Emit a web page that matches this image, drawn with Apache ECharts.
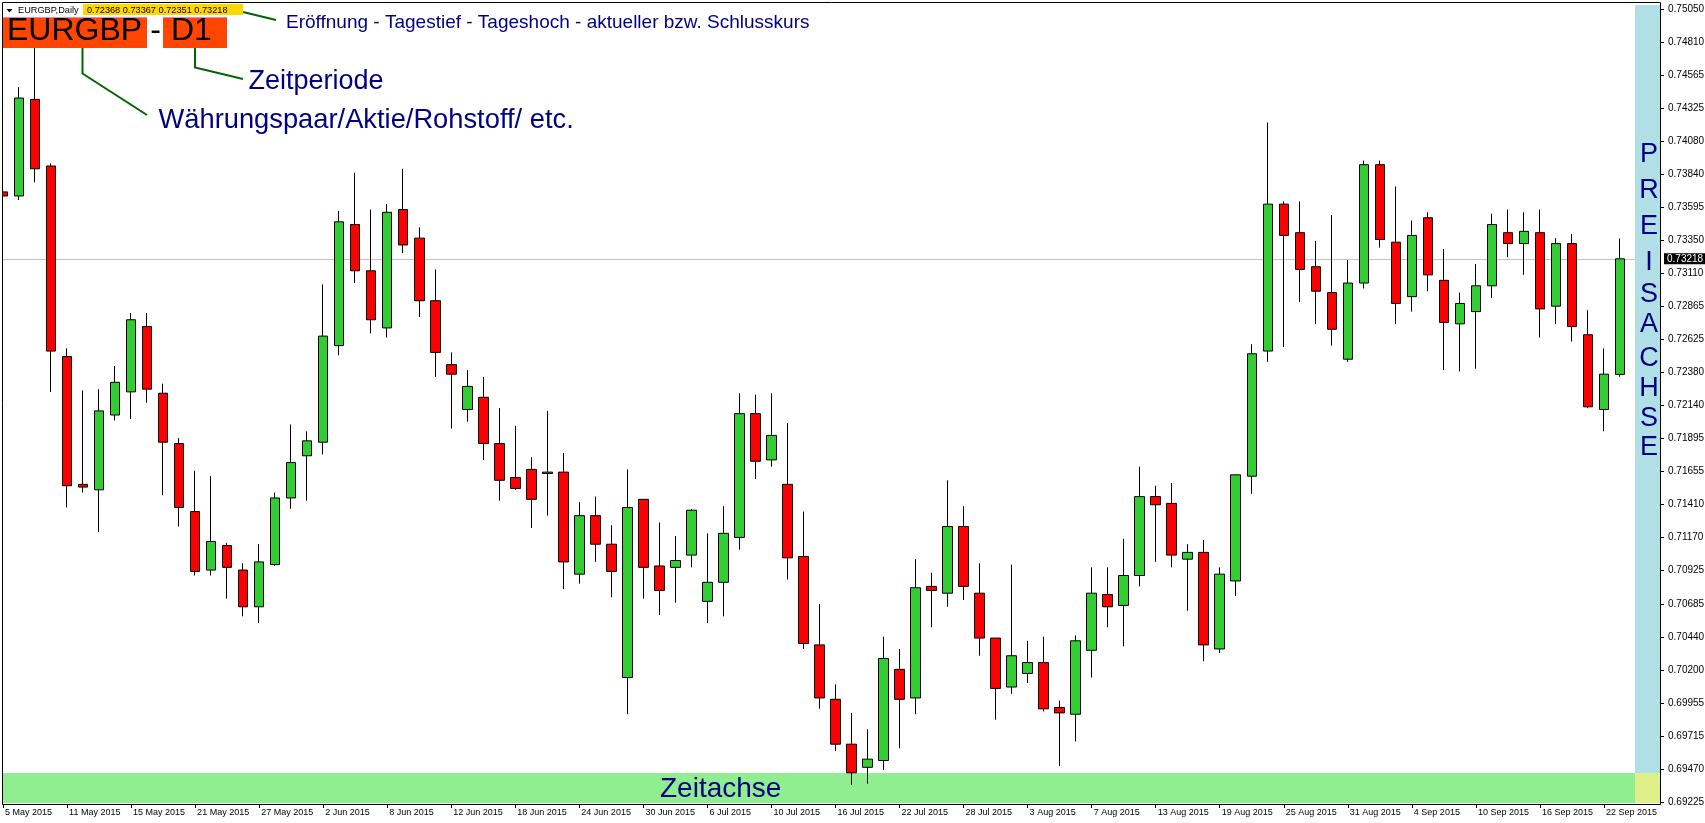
<!DOCTYPE html>
<html><head><meta charset="utf-8">
<script src="https://cdn.jsdelivr.net/npm/echarts@6/dist/echarts.min.js"></script>
<style>html,body{margin:0;padding:0;background:#fff;}#c{width:1705px;height:823px;}</style>
</head><body><div id="c"></div>
<script>
const DATES = [
'5 May 2015','6 May 2015','7 May 2015','8 May 2015','11 May 2015','12 May 2015','13 May 2015','14 May 2015','15 May 2015','18 May 2015',
'19 May 2015','20 May 2015','21 May 2015','22 May 2015','25 May 2015','26 May 2015','27 May 2015','28 May 2015','29 May 2015','1 Jun 2015',
'2 Jun 2015','3 Jun 2015','4 Jun 2015','5 Jun 2015','8 Jun 2015','9 Jun 2015','10 Jun 2015','11 Jun 2015','12 Jun 2015','15 Jun 2015',
'16 Jun 2015','17 Jun 2015','18 Jun 2015','19 Jun 2015','22 Jun 2015','23 Jun 2015','24 Jun 2015','25 Jun 2015','26 Jun 2015','29 Jun 2015',
'30 Jun 2015','1 Jul 2015','2 Jul 2015','3 Jul 2015','6 Jul 2015','7 Jul 2015','8 Jul 2015','9 Jul 2015','10 Jul 2015','13 Jul 2015',
'14 Jul 2015','15 Jul 2015','16 Jul 2015','17 Jul 2015','20 Jul 2015','21 Jul 2015','22 Jul 2015','23 Jul 2015','24 Jul 2015','27 Jul 2015',
'28 Jul 2015','29 Jul 2015','30 Jul 2015','31 Jul 2015','3 Aug 2015','4 Aug 2015','5 Aug 2015','6 Aug 2015','7 Aug 2015','10 Aug 2015',
'11 Aug 2015','12 Aug 2015','13 Aug 2015','14 Aug 2015','17 Aug 2015','18 Aug 2015','19 Aug 2015','20 Aug 2015','21 Aug 2015','24 Aug 2015',
'25 Aug 2015','26 Aug 2015','27 Aug 2015','28 Aug 2015','31 Aug 2015','1 Sep 2015','2 Sep 2015','3 Sep 2015','4 Sep 2015','7 Sep 2015',
'8 Sep 2015','9 Sep 2015','10 Sep 2015','11 Sep 2015','14 Sep 2015','15 Sep 2015','16 Sep 2015','17 Sep 2015','18 Sep 2015','21 Sep 2015',
'22 Sep 2015','23 Sep 2015','24 Sep 2015','25 Sep 2015'];

const OPEN = [0.7371,0.7368,0.7439,0.7390,0.7250,0.7156,0.7152,0.7207,0.7224,0.7272,
0.7223,0.7186,0.7136,0.7093,0.7111,0.7093,0.7066,0.7097,0.7146,0.7177,
0.7187,0.7258,0.7347,0.7313,0.7271,0.7358,0.7337,0.7291,0.7244,0.7211,
0.7220,0.7186,0.7161,0.7167,0.7164,0.7165,0.7090,0.7133,0.7112,0.7014,
0.7145,0.7096,0.7095,0.7104,0.7070,0.7084,0.7117,0.7208,0.7174,0.7156,
0.7103,0.7038,0.6998,0.6965,0.6948,0.6953,0.7020,0.6999,0.7081,0.7076,
0.7125,0.7076,0.7043,0.7007,0.7017,0.7025,0.6992,0.6987,0.7034,0.7075,
0.7067,0.7089,0.7147,0.7142,0.7101,0.7106,0.7035,0.7085,0.7162,0.7254,
0.7362,0.7341,0.7316,0.7297,0.7248,0.7304,0.7391,0.7334,0.7294,0.7352,
0.7306,0.7274,0.7283,0.7302,0.7341,0.7333,0.7341,0.7287,0.7333,0.7266,
0.7211,0.72368];
const CLOSE = [0.7368,0.7440,0.7388,0.7254,0.7155,0.7154,0.7210,0.7231,0.7277,0.7226,
0.7187,0.7139,0.7092,0.7114,0.7095,0.7066,0.7099,0.7146,0.7172,0.7188,
0.7265,0.7349,0.7313,0.7277,0.7356,0.7332,0.7291,0.7253,0.7237,0.7228,
0.7186,0.7159,0.7153,0.7145,0.7165,0.7099,0.7133,0.7112,0.7092,0.7139,
0.7095,0.7078,0.7100,0.7137,0.7084,0.7120,0.7208,0.7173,0.7192,0.7102,
0.7039,0.6999,0.6965,0.6944,0.6954,0.7028,0.6998,0.7080,0.7078,0.7125,
0.7081,0.7043,0.7006,0.7030,0.7025,0.6991,0.6988,0.7041,0.7076,0.7066,
0.7089,0.7147,0.7141,0.7104,0.7106,0.7038,0.7090,0.7163,0.7252,0.7362,
0.7339,0.7314,0.7298,0.7270,0.7304,0.7391,0.7336,0.7289,0.7339,0.7310,
0.7275,0.7289,0.7302,0.7347,0.7333,0.7342,0.7285,0.7333,0.7272,0.7213,
0.7237,0.73218];
const LOW = [0.7314,0.7365,0.7378,0.7224,0.7139,0.7150,0.7121,0.7203,0.7204,0.7216,
0.7148,0.7125,0.7089,0.7089,0.7072,0.7059,0.7054,0.7096,0.7138,0.7144,
0.7178,0.7251,0.7304,0.7267,0.7264,0.7326,0.7279,0.7235,0.7197,0.7202,
0.7174,0.7144,0.7152,0.7124,0.7133,0.7079,0.7083,0.7099,0.7073,0.6987,
0.7072,0.7060,0.7069,0.7095,0.7054,0.7059,0.7108,0.7160,0.7169,0.7086,
0.7035,0.6991,0.6960,0.6935,0.6936,0.6946,0.6962,0.6987,0.7051,0.7066,
0.7071,0.7030,0.6983,0.7002,0.7010,0.6989,0.6949,0.6967,0.7014,0.7051,
0.7037,0.7081,0.7099,0.7095,0.7063,0.7026,0.7032,0.7074,0.7149,0.7246,
0.7257,0.7290,0.7274,0.7258,0.7246,0.7300,0.7330,0.7274,0.7283,0.7298,
0.7240,0.7239,0.7241,0.7293,0.7323,0.7310,0.7264,0.7274,0.7261,0.7212,
0.7195,0.72351];
const HIGH = [0.7382,0.7448,0.7483,0.7392,0.7256,0.7225,0.7226,0.7243,0.7282,0.7282,
0.7230,0.7190,0.7166,0.7162,0.7113,0.7098,0.7112,0.7150,0.7200,0.7195,
0.7303,0.7357,0.7385,0.7358,0.7362,0.7388,0.7345,0.7314,0.7253,0.7240,
0.7235,0.7212,0.7199,0.7176,0.7210,0.7179,0.7143,0.7147,0.7126,0.7167,
0.7145,0.7128,0.7118,0.7138,0.7120,0.7140,0.7223,0.7222,0.7223,0.7201,
0.7136,0.7068,0.7009,0.6988,0.6976,0.7044,0.7035,0.7101,0.7091,0.7159,
0.7140,0.7098,0.7043,0.7097,0.7041,0.7044,0.6997,0.7045,0.7095,0.7095,
0.7116,0.7169,0.7155,0.7157,0.7112,0.7115,0.7095,0.7163,0.7259,0.7422,
0.7364,0.7364,0.7335,0.7354,0.7321,0.7394,0.7394,0.7375,0.7350,0.7356,
0.7329,0.7297,0.7318,0.7355,0.7358,0.7356,0.7358,0.7337,0.7340,0.7284,
0.7256,0.73367];

const Y_LABELS = ['0.69225','0.69470','0.69715','0.69955','0.70200','0.70440','0.70685','0.70925',
'0.71170','0.71410','0.71655','0.71895','0.72140','0.72380','0.72625','0.72865','0.73110','0.73350',
'0.73595','0.73840','0.74080','0.74325','0.74565','0.74810','0.75050'];

const SYMBOL_TEXT = 'EURGBP,Daily';
const PAIR_TEXT = 'EURGBP';
const PERIOD_TEXT = 'D1';
const NOTE_OHLC = 'Eröffnung - Tagestief - Tageshoch - aktueller bzw. Schlusskurs';
const NOTE_PERIOD = 'Zeitperiode';
const NOTE_PAIR = 'Währungspaar/Aktie/Rohstoff/ etc.';
const NOTE_TIME = 'Zeitachse';
const NOTE_PRICE = ['P','R','E','I','S','A','C','H','S','E'];

const Y_MIN = 0.69225;
const Y_STEP = Y_MIN / 285;
const Y_MAX = Y_MIN + 24 * Y_STEP;
const FF = '"Liberation Sans", Arial, sans-serif';

const n = OPEN.length;
const last = n - 1;
const candles = OPEN.map((o, i) => [o, CLOSE[i], LOW[i], HIGH[i]]);
const headerQuote = [OPEN[last], HIGH[last], LOW[last], CLOSE[last]].map(v => v.toFixed(5)).join(' ');

function txt(text, x, y, size, fill, align) {
  return {type:'text', silent:true, z:20,
    style:{text:text, x:x, y:y, fill:fill, fontSize:size, fontFamily:FF,
      align:align||'left', verticalAlign:'middle', textAlign:align||'left', textVerticalAlign:'middle'}};
}
const NAVY = '#000080';
const DG = '#006400';
const letterY = [154.5, 191, 226.5, 262.5, 295, 325, 358.5, 388.5, 419, 448];

const graphics = [
  {type:'rect', silent:true, z:0, shape:{x:2.5, y:773, width:1632.5, height:30}, style:{fill:'#90EE90'}},
  {type:'rect', silent:true, z:15, shape:{x:1635, y:5, width:25.5, height:768}, style:{fill:'#B0E0E6'}},
  {type:'rect', silent:true, z:15, shape:{x:1635, y:773, width:25.5, height:30}, style:{fill:'#DFF08A'}},
  {type:'rect', silent:true, z:18, shape:{x:0, y:0, width:2.5, height:823}, style:{fill:'#fff'}},
  {type:'rect', silent:true, z:30, shape:{x:2.5, y:2.5, width:1658, height:802}, style:{fill:'none', stroke:'#000', lineWidth:1}},
  // header
  {type:'polygon', silent:true, z:20, shape:{points:[[6.5,9],[12.5,9],[9.5,12.5]]}, style:{fill:'#000'}},
  txt(SYMBOL_TEXT, 18, 10.8, 9.2, '#000'),
  {type:'rect', silent:true, z:19, shape:{x:83, y:4, width:160, height:11}, style:{fill:'#FFD700'}},
  txt(headerQuote, 87, 10.3, 9.2, '#000'),
  {type:'polyline', silent:true, z:20, shape:{points:[[243,12],[276,20]]}, style:{stroke:DG, lineWidth:2}},
  txt(NOTE_OHLC, 286, 22.9, 19, NAVY),
  // pair / period boxes
  {type:'rect', silent:true, z:19, shape:{x:2.5, y:17, width:144.5, height:31}, style:{fill:'#FF4500'}},
  {type:'rect', silent:true, z:19, shape:{x:163, y:17, width:64, height:31}, style:{fill:'#FF4500'}},
  {type:'polyline', silent:true, z:20, shape:{points:[[2.5,17.5],[147,17.5]]}, style:{stroke:'#FF7FB0', lineWidth:1}},
  {type:'polyline', silent:true, z:20, shape:{points:[[163,17.5],[227,17.5]]}, style:{stroke:'#FF7FB0', lineWidth:1}},
  txt(PAIR_TEXT, 7, 31, 32, '#000'),
  txt('-', 155.5, 31, 32, '#000', 'center'),
  txt(PERIOD_TEXT, 171, 31, 32, '#000'),
  {type:'polyline', silent:true, z:20, shape:{points:[[82.5,48],[82.5,73.5],[147,115]]}, style:{stroke:DG, lineWidth:2}},
  {type:'polyline', silent:true, z:20, shape:{points:[[195,48],[195,67.5],[243,79]]}, style:{stroke:DG, lineWidth:2}},
  txt(NOTE_PERIOD, 248.5, 81.3, 27, NAVY),
  txt(NOTE_PAIR, 158.5, 120.8, 27.3, NAVY),
  txt(NOTE_TIME, 660, 789.3, 28, NAVY)
];
NOTE_PRICE.forEach((ch, i) => graphics.push(txt(ch, 1649, letterY[i], 27, NAVY, 'center')));

const chart = echarts.init(document.getElementById('c'), null, {renderer:'canvas'});
chart.setOption({
  animation:false,
  backgroundColor:'#fff',
  grid:{left:-5, right:45, top:9, bottom:21, containLabel:false, outerBoundsMode:'none'},
  xAxis:{type:'category', data:DATES, boundaryGap:true, position:'bottom', offset:2,
    axisLine:{show:true, lineStyle:{color:'#000', width:1}},
    axisTick:{show:true, alignWithLabel:true, interval:3, length:4, lineStyle:{color:'#000'}},
    axisLabel:{show:true, interval:3, align:'left', color:'#000', fontSize:9, fontFamily:FF, margin:4, padding:[0,0,0,2],
      hideOverlap:false},
    splitLine:{show:false}},
  yAxis:{type:'value', position:'right', min:Y_MIN, max:Y_MAX, interval:Y_STEP, scale:false,
    axisLine:{show:true, lineStyle:{color:'#000', width:1}},
    axisTick:{show:true, length:4, lineStyle:{color:'#000'}},
    axisLabel:{show:true, color:'#000', fontSize:10, fontFamily:FF, margin:8, hideOverlap:false,
      showMinLabel:true, showMaxLabel:true,
      formatter:function(v){ const k=(v-Y_MIN)/Y_STEP; const r=Math.round(k); if(Math.abs(k-r)>0.05) return ''; return Y_LABELS[r]||''; }},
    splitLine:{show:false}},
  graphic:{elements:graphics},
  series:[{
    type:'line', data:[], silent:true, z:1, symbol:'none',
    markLine:{silent:true, symbol:['none','none'], animation:false, z:1, precision:5,
      lineStyle:{color:'#C0C0C0', type:'solid', width:1},
      label:{show:true, position:'end', distance:4, formatter:CLOSE[last].toFixed(5), color:'#fff', backgroundColor:'#000',
        fontSize:10, fontFamily:FF, padding:[1,2,0,3], lineHeight:10},
      data:[{yAxis:CLOSE[last]}]}
  },{
    type:'candlestick', data:candles, barWidth:10, z:2,
    itemStyle:{color:'#32CD32', color0:'#FF0000', borderColor:'#000', borderColor0:'#000', borderWidth:1}
  }]
});
</script></body></html>
